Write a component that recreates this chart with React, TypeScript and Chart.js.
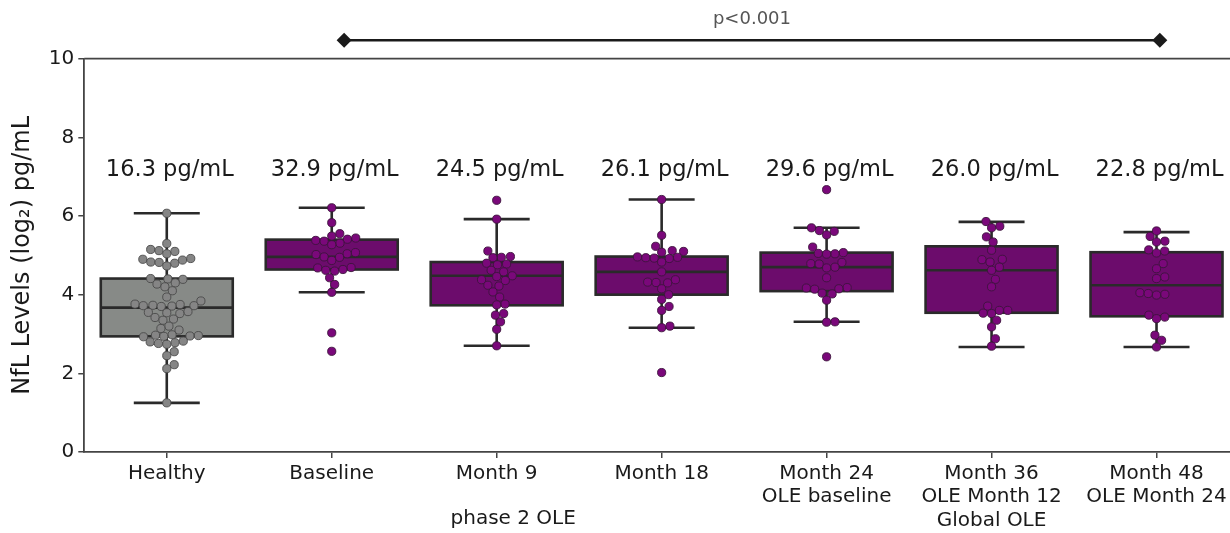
import React, { useEffect, useRef } from "react";
import { Chart, registerables } from "chart.js";

Chart.register(...registerables);

// ---------- data ----------
const categories: string[][] = [
  ["Healthy"],
  ["Baseline"],
  ["Month 9"],
  ["Month 18"],
  ["Month 24", "OLE baseline"],
  ["Month 36", "OLE Month 12", "Global OLE"],
  ["Month 48", "OLE Month 24"],
];
const medianLabels = [
  "16.3 pg/mL",
  "32.9 pg/mL",
  "24.5 pg/mL",
  "26.1 pg/mL",
  "29.6 pg/mL",
  "26.0 pg/mL",
  "22.8 pg/mL",
];
const yTicks = [0, 2, 4, 6, 8, 10];

const whiskerLow = [1.25, 4.06, 2.7, 3.16, 3.31, 2.67, 2.67];
const q1 = [2.94, 4.64, 3.73, 4.0, 4.09, 3.54, 3.45];
const median = [3.67, 4.96, 4.48, 4.58, 4.7, 4.62, 4.24];
const q3 = [4.41, 5.4, 4.83, 4.97, 5.07, 5.23, 5.08];
const whiskerHigh = [6.07, 6.21, 5.92, 6.42, 5.7, 5.85, 5.59];

const healthyPoints = [
  6.07, 5.3, 5.15, 5.12, 5.1, 5.04, 4.92, 4.9, 4.88, 4.83, 4.82, 4.8, 4.73,
  4.41, 4.4, 4.39, 4.3, 4.27, 4.2, 4.1, 3.94, 3.84, 3.76, 3.75, 3.73, 3.72,
  3.72, 3.71, 3.7, 3.57, 3.55, 3.54, 3.52, 3.42, 3.38, 3.35, 3.2, 3.14, 3.1,
  2.98, 2.97, 2.96, 2.95, 2.94, 2.93, 2.82, 2.8, 2.78, 2.76, 2.74, 2.55, 2.45,
  2.22, 2.12, 1.25,
];
const baselinePoints = [
  6.21, 5.83, 5.55, 5.49, 5.44, 5.41, 5.38, 5.36, 5.31, 5.27, 5.07, 5.04,
  5.02, 4.96, 4.95, 4.87, 4.69, 4.68, 4.64, 4.62, 4.6, 4.43, 4.26, 4.06, 3.03,
  2.56,
];
const month9Points = [
  6.4, 5.92, 5.11, 4.97, 4.95, 4.94, 4.8, 4.78, 4.76, 4.62, 4.58, 4.48, 4.46,
  4.38, 4.36, 4.24, 4.22, 4.07, 3.94, 3.76, 3.74, 3.52, 3.48, 3.31, 3.12, 2.7,
];
const month18Points = [
  6.42, 5.51, 5.23, 5.12, 5.1, 5.08, 4.96, 4.95, 4.94, 4.93, 4.92, 4.83, 4.58,
  4.38, 4.32, 4.31, 4.3, 4.15, 4.0, 3.88, 3.7, 3.6, 3.2, 3.16, 2.02,
];
const month24Points = [
  6.67, 5.7, 5.63, 5.61, 5.52, 5.21, 5.07, 5.05, 5.04, 5.03, 4.82, 4.79, 4.78,
  4.7, 4.68, 4.43, 4.18, 4.17, 4.15, 4.14, 4.04, 4.02, 3.86, 3.31, 3.3, 2.42,
];
const month36Points = [
  5.86, 5.74, 5.7, 5.47, 5.34, 5.13, 4.9, 4.89, 4.83, 4.7, 4.62, 4.39, 4.2,
  3.71, 3.6, 3.6, 3.53, 3.52, 3.35, 3.18, 2.88, 2.69,
];
const month48Points = [
  5.62, 5.48, 5.36, 5.34, 5.14, 5.11, 5.06, 4.79, 4.66, 4.45, 4.41, 4.05,
  4.03, 4.01, 3.99, 3.48, 3.43, 3.39, 2.97, 2.84, 2.67,
];
const groupPoints = [
  healthyPoints,
  baselinePoints,
  month9Points,
  month18Points,
  month24Points,
  month36Points,
  month48Points,
];

const pValueText = "p<0.001";
const bracketFrom = 1.075;
const bracketTo = 6.02;
const groupCaption = "phase 2 OLE";

// ---------- styles ----------
const FONT = "'DejaVu Sans', 'Liberation Sans', sans-serif";
const GRAY_BOX = "#878a87";
const PURPLE_BOX = "#6c0c6c";
const GRAY_PT = "#858585";
const PURPLE_PT = "#7a087a";
const EDGE = "#2a2a2a";
const SPINE = "#444444";
const TEXT = "#1a1a1a";

function swarmOffsets(ys: number[], d: number): number[] {
  const order = ys.map((_, i) => i).sort((a, b) => ys[b] - ys[a]);
  const placed: { x: number; y: number }[] = [];
  const offs = new Array(ys.length).fill(0);
  for (const i of order) {
    const y = ys[i];
    const nb = placed.filter((p) => Math.abs(p.y - y) < d);
    const cands = [0];
    for (const p of nb) {
      const dx = Math.sqrt(Math.max(0, d * d - (p.y - y) * (p.y - y)));
      cands.push(p.x + dx, p.x - dx);
    }
    cands.sort((a, b) => Math.abs(a) - Math.abs(b));
    let chosen = 0;
    for (const c of cands) {
      if (nb.every((p) => (p.x - c) ** 2 + (p.y - y) ** 2 >= d * d - 0.01)) {
        chosen = c;
        break;
      }
    }
    placed.push({ x: chosen, y });
    offs[i] = chosen;
  }
  return offs;
}

const swarmPlugin = {
  id: "swarm",
  afterDatasetsUpdate(chart: any) {
    chart.getSortedVisibleDatasetMetas().forEach((meta: any) => {
      const els = meta.data;
      const ys = els.map((e: any) => e.y);
      const offs = swarmOffsets(ys, 8.4);
      els.forEach((e: any, i: number) => {
        e.x = e.x + offs[i];
      });
    });
  },
};

const boxPlugin = {
  id: "boxes",
  beforeDatasetsDraw(chart: any) {
    const { ctx, scales } = chart;
    const xs = scales.x;
    const ys = scales.y;
    const step = xs.getPixelForValue(1) - xs.getPixelForValue(0);
    const half = step * 0.4;
    const cap = step * 0.2;
    ctx.save();
    ctx.strokeStyle = EDGE;
    ctx.lineWidth = 2.6;
    ctx.lineCap = "butt";
    for (let i = 0; i < categories.length; i++) {
      const cx = xs.getPixelForValue(i);
      const yLo = ys.getPixelForValue(whiskerLow[i]);
      const yQ1 = ys.getPixelForValue(q1[i]);
      const yMed = ys.getPixelForValue(median[i]);
      const yQ3 = ys.getPixelForValue(q3[i]);
      const yHi = ys.getPixelForValue(whiskerHigh[i]);
      ctx.beginPath();
      ctx.moveTo(cx, yLo);
      ctx.lineTo(cx, yQ1);
      ctx.moveTo(cx, yQ3);
      ctx.lineTo(cx, yHi);
      ctx.moveTo(cx - cap, yLo);
      ctx.lineTo(cx + cap, yLo);
      ctx.moveTo(cx - cap, yHi);
      ctx.lineTo(cx + cap, yHi);
      ctx.stroke();
      ctx.fillStyle = i === 0 ? GRAY_BOX : PURPLE_BOX;
      ctx.fillRect(cx - half, yQ3, half * 2, yQ1 - yQ3);
      ctx.strokeRect(cx - half, yQ3, half * 2, yQ1 - yQ3);
      ctx.beginPath();
      ctx.moveTo(cx - half, yMed);
      ctx.lineTo(cx + half, yMed);
      ctx.stroke();
    }
    ctx.restore();
  },
  afterDraw(chart: any) {
    const { ctx, scales, chartArea } = chart;
    const xs = scales.x;
    const ys = scales.y;
    ctx.save();
    // top and right spines
    ctx.strokeStyle = SPINE;
    ctx.lineWidth = 1.8;
    ctx.beginPath();
    ctx.moveTo(chartArea.left, chartArea.top);
    ctx.lineTo(chartArea.right, chartArea.top);
    ctx.lineTo(chartArea.right, chartArea.bottom);
    ctx.stroke();
    // median labels
    ctx.fillStyle = TEXT;
    ctx.font = `22.5px ${FONT}`;
    ctx.textAlign = "center";
    ctx.textBaseline = "middle";
    const ly = ys.getPixelForValue(7.16);
    medianLabels.forEach((t, i) => {
      ctx.fillText(t, xs.getPixelForValue(i) + 3, ly);
    });
    // bracket
    const bx1 = xs.getPixelForValue(bracketFrom);
    const bx2 = xs.getPixelForValue(bracketTo);
    const by = ys.getPixelForValue(10.47);
    ctx.strokeStyle = "#1a1a1a";
    ctx.lineWidth = 2.6;
    ctx.beginPath();
    ctx.moveTo(bx1, by);
    ctx.lineTo(bx2, by);
    ctx.stroke();
    ctx.fillStyle = "#1a1a1a";
    [bx1, bx2].forEach((bx) => {
      ctx.beginPath();
      ctx.moveTo(bx - 7.5, by);
      ctx.lineTo(bx, by - 7.5);
      ctx.lineTo(bx + 7.5, by);
      ctx.lineTo(bx, by + 7.5);
      ctx.closePath();
      ctx.fill();
    });
    ctx.fillStyle = "#555555";
    ctx.font = `18px ${FONT}`;
    ctx.fillText(pValueText, (bx1 + bx2) / 2, by - 21);
    // group caption
    ctx.fillStyle = TEXT;
    ctx.font = `20px ${FONT}`;
    ctx.fillText(groupCaption, xs.getPixelForValue(2.1), 519);
    ctx.restore();
  },
};

export default function App() {
  const ref = useRef<HTMLCanvasElement | null>(null);
  useEffect(() => {
    if (!ref.current) return;
    const datasets = groupPoints.map((pts, i) => ({
      type: "scatter" as const,
      data: pts.map((v) => ({ x: i, y: v })),
      pointRadius: 4.1,
      pointHoverRadius: 4.1,
      backgroundColor: i === 0 ? GRAY_PT : PURPLE_PT,
      borderColor: i === 0 ? "#4a4a4a" : "#3c143c",
      borderWidth: 0.9,
    }));
    const chart = new Chart(ref.current, {
      type: "scatter",
      data: { datasets },
      options: {
        animation: false,
        responsive: false,
        devicePixelRatio: 1,
        layout: { padding: { top: 58.7, right: 21, left: 0, bottom: 0 } },
        plugins: {
          legend: { display: false },
          tooltip: { enabled: false },
        },
        scales: {
          x: {
            type: "linear",
            min: -0.5,
            max: 6.5,
            afterFit: (s: any) => {
              s.height = 81;
            },
            afterBuildTicks: (s: any) => {
              s.ticks = categories.map((_, i) => ({ value: i }));
            },
            ticks: {
              callback: (v: any) => categories[v as number],
              font: { family: FONT, size: 20, lineHeight: 1.17 },
              color: TEXT,
              padding: 4,
              maxRotation: 0,
              autoSkip: false,
            },
            grid: {
              display: true,
              drawOnChartArea: false,
              drawTicks: true,
              tickLength: 6,
              color: SPINE,
              lineWidth: 1.5,
            },
            border: { display: true, color: SPINE, width: 1.8 },
          },
          y: {
            type: "linear",
            min: 0,
            max: 10,
            afterFit: (s: any) => {
              s.width = 84.3;
            },
            afterBuildTicks: (s: any) => {
              s.ticks = yTicks.map((v) => ({ value: v }));
            },
            ticks: {
              font: { family: FONT, size: 20 },
              color: TEXT,
              padding: 4,
            },
            grid: {
              display: true,
              drawOnChartArea: false,
              drawTicks: true,
              tickLength: 6,
              color: SPINE,
              lineWidth: 1.5,
            },
            border: { display: true, color: SPINE, width: 1.8 },
            title: {
              display: true,
              text: "NfL Levels (log₂) pg/mL",
              font: { family: FONT, size: 24 },
              color: TEXT,
              padding: { top: 8, bottom: 0 },
            },
          },
        },
      },
      plugins: [swarmPlugin, boxPlugin],
    } as any);
    return () => chart.destroy();
  }, []);
  return (
    <div
      style={{
        position: "fixed",
        left: 0,
        top: 0,
        width: 1230,
        height: 533,
        overflow: "hidden",
        background: "#ffffff",
      }}
    >
      <canvas
        ref={ref}
        width={1260}
        height={533}
        style={{ width: 1260, height: 533, display: "block" }}
      />
    </div>
  );
}
